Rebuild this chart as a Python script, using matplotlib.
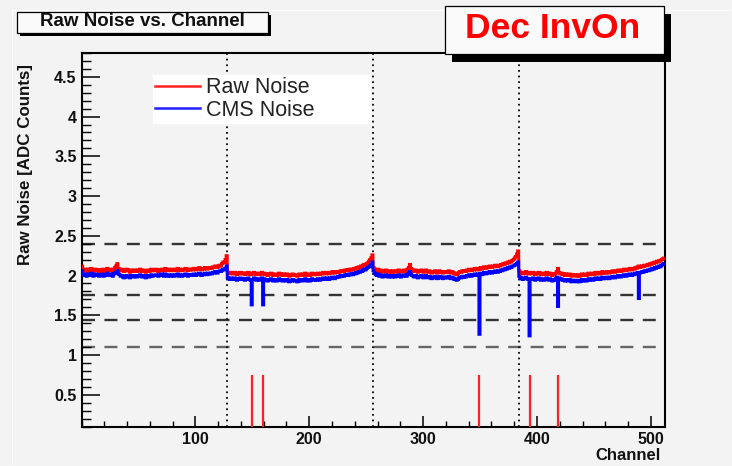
import numpy as np
import matplotlib
matplotlib.use("Agg")
import matplotlib.pyplot as plt
from matplotlib.patches import Rectangle
from matplotlib.lines import Line2D
from matplotlib.ticker import FixedLocator, MultipleLocator

# ---------------- data ----------------
raw_noise = [
    # chip 1 (0-127)
    2.12, 2.08, 2.06, 2.07, 2.05, 2.08, 2.06, 2.07, 2.09, 2.06, 2.05, 2.07, 2.08, 2.06, 2.07, 2.05,
    2.07, 2.06, 2.08, 2.05, 2.07, 2.06, 2.09, 2.07, 2.06, 2.08, 2.07, 2.05, 2.08, 2.10, 2.12, 2.15,
    2.09, 2.07, 2.06, 2.08, 2.07, 2.05, 2.06, 2.08, 2.07, 2.06, 2.04, 2.07, 2.06, 2.05, 2.07, 2.06,
    2.05, 2.07, 2.06, 2.08, 2.06, 2.05, 2.07, 2.06, 2.04, 2.06, 2.07, 2.05, 2.06, 2.08, 2.06, 2.07,
    2.06, 2.08, 2.07, 2.05, 2.07, 2.06, 2.08, 2.07, 2.06, 2.09, 2.07, 2.06, 2.08, 2.07, 2.06, 2.08,
    2.07, 2.06, 2.08, 2.07, 2.09, 2.06, 2.08, 2.07, 2.06, 2.08, 2.07, 2.09, 2.08, 2.06, 2.08, 2.07,
    2.08, 2.07, 2.09, 2.08, 2.07, 2.09, 2.08, 2.10, 2.08, 2.07, 2.09, 2.08, 2.10, 2.09, 2.08, 2.10,
    2.09, 2.10, 2.09, 2.11, 2.10, 2.12, 2.11, 2.10, 2.12, 2.13, 2.12, 2.15, 2.17, 2.16, 2.20, 2.25,
    # chip 2 (128-255)
    2.04, 2.03, 2.02, 2.04, 2.03, 2.02, 2.04, 2.03, 2.01, 2.03, 2.02, 2.04, 2.03, 2.02, 2.03, 2.01,
    2.03, 2.02, 2.04, 2.02, 2.01, 2.03, 2.02, 2.04, 2.03, 2.01, 2.02, 2.03, 2.01, 2.02, 2.04, 2.02,
    2.03, 2.01, 2.02, 2.00, 2.02, 2.01, 2.03, 2.02, 2.00, 2.01, 2.02, 2.00, 2.01, 2.03, 2.01, 2.02,
    2.00, 2.02, 2.01, 2.00, 2.02, 2.01, 1.99, 2.01, 2.00, 2.02, 2.01, 2.00, 2.01, 1.99, 2.00, 2.02,
    2.01, 2.00, 2.02, 2.01, 2.03, 2.00, 2.01, 2.02, 2.00, 2.01, 2.03, 2.02, 2.01, 2.02, 2.01, 2.03,
    2.02, 2.01, 2.03, 2.02, 2.04, 2.03, 2.02, 2.04, 2.03, 2.02, 2.04, 2.03, 2.05, 2.04, 2.03, 2.05,
    2.04, 2.05, 2.04, 2.06, 2.05, 2.06, 2.05, 2.07, 2.06, 2.07, 2.06, 2.08, 2.07, 2.08, 2.07, 2.09,
    2.08, 2.10, 2.09, 2.11, 2.10, 2.12, 2.11, 2.13, 2.14, 2.13, 2.15, 2.16, 2.18, 2.20, 2.22, 2.26,
    # chip 3 (256-383)
    2.10, 2.08, 2.07, 2.06, 2.08, 2.05, 2.07, 2.06, 2.04, 2.06, 2.05, 2.07, 2.05, 2.04, 2.06, 2.05,
    2.04, 2.06, 2.05, 2.04, 2.06, 2.05, 2.07, 2.05, 2.04, 2.06, 2.05, 2.07, 2.06, 2.05, 2.08, 2.10,
    2.14, 2.09, 2.07, 2.06, 2.05, 2.07, 2.06, 2.04, 2.06, 2.05, 2.07, 2.06, 2.04, 2.05, 2.07, 2.05,
    2.04, 2.06, 2.05, 2.03, 2.05, 2.04, 2.06, 2.05, 2.03, 2.04, 2.06, 2.04, 2.05, 2.03, 2.05, 2.04,
    2.05, 2.04, 2.06, 2.04, 2.03, 2.05, 2.04, 2.02, 2.03, 2.01, 2.02, 2.04, 2.05, 2.04, 2.06, 2.05,
    2.06, 2.05, 2.07, 2.06, 2.08, 2.07, 2.06, 2.08, 2.07, 2.09, 2.08, 2.07, 2.09, 2.08, 2.10, 2.08,
    2.09, 2.11, 2.10, 2.09, 2.11, 2.10, 2.12, 2.11, 2.10, 2.12, 2.11, 2.13, 2.12, 2.11, 2.13, 2.12,
    2.14, 2.13, 2.15, 2.14, 2.16, 2.15, 2.17, 2.16, 2.18, 2.17, 2.19, 2.20, 2.22, 2.24, 2.27, 2.31,
    # chip 4 (384-511)
    2.06, 2.04, 2.03, 2.02, 2.04, 2.03, 2.05, 2.03, 2.02, 2.04, 2.03, 2.02, 2.04, 2.03, 2.01, 2.03,
    2.02, 2.04, 2.03, 2.01, 2.02, 2.03, 2.01, 2.02, 2.04, 2.02, 2.01, 2.03, 2.02, 2.00, 2.02, 2.01,
    2.03, 2.05, 2.09, 2.04, 2.02, 2.03, 2.01, 2.02, 2.00, 2.02, 2.01, 2.00, 2.02, 2.01, 1.99, 2.01,
    2.00, 2.01, 1.99, 2.00, 2.01, 1.99, 2.00, 2.02, 2.00, 2.01, 2.02, 2.00, 2.01, 2.03, 2.01, 2.02,
    2.03, 2.01, 2.02, 2.04, 2.02, 2.03, 2.04, 2.02, 2.03, 2.05, 2.03, 2.04, 2.03, 2.05, 2.04, 2.03,
    2.05, 2.04, 2.06, 2.05, 2.04, 2.06, 2.05, 2.07, 2.06, 2.05, 2.07, 2.06, 2.08, 2.07, 2.06, 2.08,
    2.07, 2.09, 2.08, 2.07, 2.09, 2.08, 2.10, 2.09, 2.11, 2.12, 2.10, 2.11, 2.12, 2.11, 2.13, 2.12,
    2.13, 2.14, 2.13, 2.15, 2.14, 2.16, 2.15, 2.17, 2.16, 2.18, 2.17, 2.19, 2.18, 2.20, 2.21, 2.22,
]

cms_noise = [
    # chip 1 (0-127)
    2.06, 2.02, 2.00, 2.01, 1.99, 2.02, 2.00, 2.01, 2.03, 2.00, 1.99, 2.01, 2.02, 2.00, 2.01, 1.99,
    2.01, 2.00, 2.02, 1.99, 2.01, 2.00, 2.03, 2.01, 2.00, 2.02, 2.01, 1.99, 2.02, 2.03, 2.04, 2.06,
    2.02, 2.01, 1.99, 2.00, 1.98, 1.97, 1.99, 2.00, 1.98, 1.99, 1.97, 2.00, 1.99, 1.98, 2.00, 1.99,
    1.98, 2.00, 1.99, 2.01, 1.99, 1.98, 2.00, 1.99, 1.97, 1.99, 2.00, 1.98, 1.99, 2.01, 1.99, 2.00,
    2.00, 2.01, 2.00, 1.99, 2.01, 2.00, 2.02, 2.00, 1.99, 2.02, 2.00, 1.99, 2.01, 2.00, 1.99, 2.01,
    2.00, 1.99, 2.01, 2.00, 2.02, 1.99, 2.01, 2.00, 1.99, 2.01, 2.00, 2.02, 2.01, 1.99, 2.01, 2.00,
    2.01, 2.00, 2.02, 2.01, 2.00, 2.02, 2.01, 2.03, 2.01, 2.00, 2.02, 2.01, 2.03, 2.02, 2.01, 2.03,
    2.02, 2.03, 2.02, 2.04, 2.03, 2.05, 2.04, 2.03, 2.05, 2.06, 2.05, 2.07, 2.08, 2.07, 2.09, 2.12,
    # chip 2 (128-255)
    1.97, 1.96, 1.95, 1.97, 1.96, 1.95, 1.97, 1.96, 1.94, 1.96, 1.95, 1.97, 1.96, 1.95, 1.96, 1.94,
    1.96, 1.95, 1.97, 1.95, 1.94, 1.63, 1.95, 1.97, 1.96, 1.94, 1.95, 1.96, 1.94, 1.95, 1.97, 1.63,
    1.96, 1.94, 1.95, 1.93, 1.95, 1.94, 1.96, 1.95, 1.93, 1.94, 1.95, 1.93, 1.94, 1.96, 1.94, 1.95,
    1.93, 1.95, 1.94, 1.93, 1.95, 1.94, 1.92, 1.94, 1.93, 1.95, 1.94, 1.93, 1.94, 1.92, 1.93, 1.95,
    1.94, 1.93, 1.95, 1.94, 1.96, 1.93, 1.94, 1.95, 1.93, 1.94, 1.96, 1.95, 1.94, 1.95, 1.94, 1.96,
    1.95, 1.94, 1.96, 1.95, 1.97, 1.96, 1.95, 1.97, 1.96, 1.95, 1.97, 1.96, 1.98, 1.97, 1.96, 1.98,
    1.98, 1.99, 1.98, 2.00, 1.99, 2.00, 1.99, 2.01, 2.00, 2.01, 2.00, 2.02, 2.01, 2.02, 2.01, 2.03,
    2.02, 2.04, 2.03, 2.05, 2.04, 2.06, 2.05, 2.07, 2.08, 2.07, 2.09, 2.10, 2.11, 2.12, 2.14, 2.17,
    # chip 3 (256-383)
    2.06, 2.03, 2.01, 2.00, 2.02, 1.99, 2.01, 2.00, 1.98, 2.00, 1.99, 2.01, 1.99, 1.98, 2.00, 1.99,
    1.98, 2.00, 1.99, 1.98, 2.00, 1.99, 2.01, 1.99, 1.98, 2.00, 1.99, 2.01, 2.00, 1.99, 2.01, 2.03,
    2.05, 2.02, 2.00, 1.99, 1.98, 2.00, 1.99, 1.97, 1.99, 1.98, 2.00, 1.99, 1.97, 1.98, 2.00, 1.98,
    1.97, 1.99, 1.98, 1.96, 1.98, 1.97, 1.99, 1.98, 1.96, 1.97, 1.99, 1.97, 1.98, 1.96, 1.98, 1.97,
    1.98, 1.97, 1.99, 1.97, 1.96, 1.98, 1.97, 1.95, 1.96, 1.94, 1.95, 1.97, 1.98, 1.97, 1.99, 1.98,
    1.99, 1.98, 2.00, 1.99, 2.01, 2.00, 1.99, 2.01, 2.00, 2.02, 2.01, 2.00, 2.02, 1.26, 2.03, 2.01,
    2.02, 2.04, 2.03, 2.02, 2.04, 2.03, 2.05, 2.04, 2.03, 2.05, 2.04, 2.06, 2.05, 2.04, 2.06, 2.05,
    2.07, 2.06, 2.08, 2.07, 2.09, 2.08, 2.10, 2.09, 2.11, 2.10, 2.12, 2.12, 2.13, 2.14, 2.15, 2.17,
    # chip 4 (384-511)
    1.99, 1.97, 1.96, 1.95, 1.97, 1.96, 1.98, 1.96, 1.95, 1.24, 1.96, 1.95, 1.97, 1.96, 1.94, 1.96,
    1.95, 1.97, 1.96, 1.94, 1.95, 1.96, 1.94, 1.95, 1.97, 1.95, 1.94, 1.96, 1.95, 1.93, 1.95, 1.94,
    1.96, 1.98, 1.61, 1.97, 1.95, 1.96, 1.94, 1.95, 1.93, 1.95, 1.94, 1.93, 1.95, 1.94, 1.92, 1.94,
    1.93, 1.94, 1.92, 1.93, 1.94, 1.92, 1.93, 1.95, 1.93, 1.94, 1.95, 1.93, 1.94, 1.96, 1.94, 1.95,
    1.96, 1.94, 1.95, 1.97, 1.95, 1.96, 1.97, 1.95, 1.96, 1.98, 1.96, 1.97, 1.96, 1.98, 1.97, 1.96,
    1.98, 1.97, 1.99, 1.98, 1.97, 1.99, 1.98, 2.00, 1.99, 1.98, 2.00, 1.99, 2.01, 2.00, 1.99, 2.01,
    2.00, 2.02, 2.01, 2.00, 2.02, 2.01, 2.03, 2.02, 2.04, 1.71, 2.03, 2.04, 2.05, 2.04, 2.06, 2.05,
    2.06, 2.07, 2.06, 2.08, 2.07, 2.09, 2.08, 2.10, 2.09, 2.11, 2.10, 2.12, 2.11, 2.13, 2.14, 2.15,
]

bad_channels = [149, 159, 349, 393, 418]
bad_flag_values = [0.75, 0.75, 0.75, 0.75, 0.75]
chip_boundaries = [128, 256, 384]
threshold_levels = [2.4, 1.75, 1.44, 1.1]
x_ticks = [100, 200, 300, 400, 500]
y_ticks = [0.5, 1, 1.5, 2, 2.5, 3, 3.5, 4, 4.5]
series_labels = ["Raw Noise", "CMS Noise"]
title_text = "Raw Noise vs. Channel"
tag_text = "Dec InvOn"
x_label = "Channel"
y_label = "Raw Noise [ADC Counts]"

# ---------------- figure ----------------
W, H = 732, 466
BG = "#f3f3f3"
FONT = "Liberation Sans"
plt.rcParams["font.family"] = [FONT, "DejaVu Sans"]

fig = plt.figure(figsize=(W / 100, H / 100), dpi=100, facecolor=BG)


def fx(x):
    return x / W


def fy(y):
    return 1 - y / H


ax_l, ax_r, ax_t, ax_b = 81.5, 664.5, 53.0, 426.5
ax = fig.add_axes([fx(ax_l), fy(ax_b), fx(ax_r - ax_l), (ax_b - ax_t) / H])
ax.set_facecolor(BG)

n_ch = len(raw_noise)
edges = np.arange(n_ch + 1)

ax.set_xlim(0, n_ch)
ax.set_ylim(0.1, 4.8)

# threshold lines
thr_colors = ["#333333", "#333333", "#333333", "#666666"]
for lvl, c in zip(threshold_levels, thr_colors):
    ax.axhline(lvl, color=c, lw=1.7, dashes=(5.5, 4.0), zorder=1)

# chip boundaries
for b in chip_boundaries:
    ax.axvline(b, color="#111111", lw=1.4, dashes=(0.9, 2.0), zorder=1)

# noise histograms
ax.stairs(raw_noise, edges, baseline=None, color="#ff0000", lw=2.1, zorder=3)
ax.stairs(cms_noise, edges, baseline=None, color="#0000ff", lw=2.1, zorder=4)

# bad channel flags
ax.vlines(np.array(bad_channels) + 0.5, 0, bad_flag_values, color="#ff2020", lw=1.6, zorder=3)

# axes styling
for side in ["left", "bottom", "right", "top"]:
    ax.spines[side].set_linewidth(1.5)
    ax.spines[side].set_color("black")

ax.xaxis.set_major_locator(FixedLocator(x_ticks))
ax.xaxis.set_minor_locator(MultipleLocator(20))
ax.yaxis.set_major_locator(FixedLocator(y_ticks))
ax.yaxis.set_minor_locator(MultipleLocator(0.1))
ax.set_yticklabels([f"{v:g}" for v in y_ticks])
ax.set_xticklabels([str(v) for v in x_ticks])

ax.tick_params(axis="y", which="major", direction="in", length=12.6, width=1.1, pad=3.5,
               labelsize=11.5, right=False)
ax.tick_params(axis="y", which="minor", direction="in", length=6.3, width=1.0, right=False)
ax.tick_params(axis="x", which="major", direction="in", length=8.0, width=1.1, pad=4,
               labelsize=11.5, top=False)
ax.tick_params(axis="x", which="minor", direction="in", length=4.0, width=1.0, top=False)
for lab in ax.get_xticklabels() + ax.get_yticklabels():
    lab.set_fontweight("bold")
    lab.set_color("#111111")

# legend
handles = [Line2D([], [], color="#ff2020", lw=1.8), Line2D([], [], color="#2020ff", lw=1.8)]
leg = ax.legend(handles, series_labels, loc="upper left",
                bbox_to_anchor=(fx(153), fy(123.5), fx(370 - 153), (123.5 - 75) / H),
                bbox_transform=fig.transFigure, mode="expand", borderaxespad=0,
                frameon=True, fancybox=False, framealpha=1.0, facecolor="white",
                edgecolor="white", prop={"family": FONT, "size": 15.5},
                handlelength=2.1, handletextpad=0.25, labelspacing=0.08, borderpad=0.1)
for t in leg.get_texts():
    t.set_color("#222222")
leg.set_zorder(5)

# axis labels
fig.text(fx(26), fy(165), y_label, rotation=90, ha="center", va="center",
         fontsize=12.2, fontweight="bold", color="#111111")
fig.text(fx(661), fy(456), x_label, ha="right", va="center",
         fontsize=12.0, fontweight="bold", color="#111111")

# faint pad border
fig.add_artist(Line2D([fx(12), fx(730)], [fy(10), fy(10)], color="white", lw=0.8, alpha=0.9))
fig.add_artist(Line2D([fx(12), fx(12)], [fy(10), fy(464)], color="white", lw=0.8, alpha=0.9))

# title box with shadow
fig.add_artist(Rectangle((fx(20), fy(36)), fx(251), 21 / H, facecolor="black",
                         edgecolor="none", zorder=10))
fig.add_artist(Rectangle((fx(17), fy(33)), fx(251), 21 / H, facecolor="#fafafa",
                         edgecolor="black", lw=0.9, zorder=11))
fig.text(fx(142), fy(21.5), title_text, ha="center", va="center", fontsize=13.5,
         fontweight="bold", color="#111111", zorder=12)

# tag box with shadow
fig.add_artist(Rectangle((fx(452), fy(61.5)), fx(219), 47.5 / H, facecolor="black",
                         edgecolor="none", zorder=10))
fig.add_artist(Rectangle((fx(445), fy(53.5)), fx(219), 47.5 / H, facecolor="#fafafa",
                         edgecolor="black", lw=0.9, zorder=11))
fig.text(fx(553), fy(29), tag_text, ha="center", va="center", fontsize=25.5,
         fontweight="bold", color="#ff0000", zorder=12)

fig.savefig("out.png", dpi=100, facecolor=BG)
